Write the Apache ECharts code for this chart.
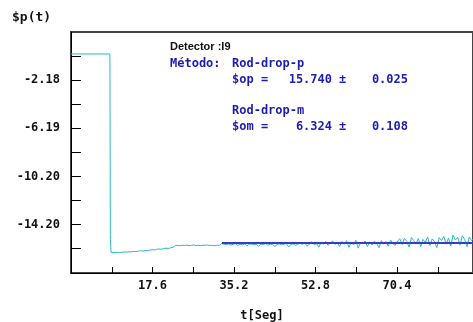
<!DOCTYPE html>
<html>
<head>
<meta charset="utf-8">
<script src="https://cdn.jsdelivr.net/npm/echarts@6/dist/echarts.min.js"></script>
<style>
  html, body { margin: 0; padding: 0; background: #fff; }
  #chart { width: 473px; height: 322px; }
</style>
</head>
<body>
<div id="chart"></div>
<script>
// tick labels and tick positions
const yLabelValues = [-14.20, -10.20, -6.19, -2.18];
const yTickValues = [-16.2, -14.2, -12.2, -10.2, -8.19, -6.19, -4.18, -2.18, -0.18];
const xLabelValues = [17.6, 35.2, 52.8, 70.4];
const xTickValues = [8.8, 17.6, 26.4, 35.2, 44.0, 52.8, 61.6, 70.4, 79.2];

// signal: before and through the rod drop
const headT = [0, 8.4, 8.5, 8.65];
const headY = [0.0, 0.0, -15.45, -16.54];

// signal after the drop, sampled every 0.5 s from 9.0 s
const tailStart = 9.0;
const tailStep = 0.5;
const tailY = [
  -16.54, -16.55, -16.53, -16.54, -16.52, -16.50, -16.51, -16.48, -16.49, -16.45,
  -16.47, -16.43, -16.40, -16.42, -16.37, -16.39, -16.34, -16.30, -16.33, -16.28,
  -16.25, -16.27, -16.22, -16.18, -16.21, -16.15, -16.12,
  -15.97, -15.95, -15.98, -15.94, -15.96, -15.93, -15.97, -15.95, -15.92, -15.96,
  -15.94, -15.97, -15.93, -15.95, -15.91, -15.96, -15.94, -15.98, -15.93, -15.95,
  -15.80, -15.84, -15.88, -15.83, -15.92, -15.86, -15.81, -15.95, -15.85, -15.89,
  -15.82, -15.98, -15.86, -15.83, -15.90, -15.85, -16.02, -15.84, -15.88, -15.80,
  -15.93, -15.86, -15.84, -16.05, -15.87, -15.82, -15.91, -15.85, -15.80, -16.08,
  -15.86, -15.83, -15.95, -15.84, -15.78,
  -15.88, -15.70, -16.02, -15.82, -15.65, -15.90, -15.79, -16.10, -15.72, -15.85,
  -15.62, -15.95, -15.75, -15.58, -15.88, -15.70,
  -16.05, -15.62, -15.85, -15.55, -16.12, -15.68, -15.90, -15.52, -16.18, -15.70,
  -15.80, -15.58, -16.05, -15.65, -15.92, -15.60, -15.78, -16.15, -15.55, -15.85,
  -15.62, -16.02, -15.50, -15.80, -15.95, -15.58,
  -15.40, -15.88, -15.35, -15.62, -16.10, -15.30, -15.55, -15.85, -15.38, -16.05,
  -15.45, -15.70, -15.25, -15.95, -15.40, -15.65, -16.15, -15.30, -15.55, -15.20,
  -15.85, -15.35, -16.00, -15.10, -15.50, -15.28, -15.90, -15.15, -15.45, -16.05,
  -15.25, -15.55, -15.35
];

// fitted level (rod-drop-p)
const fitT = [32.6, 87];
const fitY = [-15.74, -15.74];

const signal = headT.map((t, i) => [t, headY[i]]);
tailY.forEach((v, i) => signal.push([+(tailStart + i * tailStep).toFixed(2), v]));
const fit = fitT.map((t, i) => [t, fitY[i]]);

const chart = echarts.init(document.getElementById('chart'));
const mono = '"DejaVu Sans Mono", monospace';
const blue = '#1c1cb4';

chart.setOption({
  animation: false,
  grid: { left: 71, top: 32, right: -3, bottom: 49, show: true, borderColor: '#444', borderWidth: 2 },
  xAxis: {
    type: 'value',
    min: 0,
    max: 86.8,
    splitLine: { show: false },
    axisLine: { onZero: false, lineStyle: { color: '#000', width: 1 } },
    axisTick: { inside: true, length: 6, lineStyle: { color: '#000' }, customValues: xTickValues },
    axisLabel: {
      customValues: xLabelValues,
      formatter: (v) => v.toFixed(1),
      color: '#111', fontFamily: mono, fontWeight: 'bold', fontSize: 12, margin: 7
    }
  },
  yAxis: {
    type: 'value',
    min: -18.25,
    max: 1.83,
    splitLine: { show: false },
    axisLine: { show: true, onZero: false, lineStyle: { color: '#000', width: 1 } },
    axisTick: { show: true, inside: true, length: 10, lineStyle: { color: '#000' }, customValues: yTickValues },
    axisLabel: {
      customValues: yLabelValues,
      formatter: (v) => v.toFixed(2),
      color: '#111', fontFamily: mono, fontWeight: 'bold', fontSize: 12, margin: 11
    }
  },
  graphic: [
    { type: 'text', x: 12, y: 18, style: { text: '$p(t)', font: 'bold 13px ' + mono, fill: '#111', verticalAlign: 'middle' } },
    { type: 'text', x: 262, y: 316, style: { text: 't[Seg]', font: 'bold 12px ' + mono, fill: '#111', align: 'center', verticalAlign: 'middle' } },
    { type: 'text', x: 170, y: 47, style: { text: 'Detector :I9', font: 'bold 11px "Liberation Sans", sans-serif', fill: '#111', verticalAlign: 'middle' } },
    { type: 'text', x: 170, y: 64, style: { text: 'Método:', font: 'bold 12px ' + mono, fill: blue, verticalAlign: 'middle' } },
    { type: 'text', x: 232, y: 64, style: { text: 'Rod-drop-p', font: 'bold 12px ' + mono, fill: blue, verticalAlign: 'middle' } },
    { type: 'text', x: 232, y: 80, style: { text: '$op =', font: 'bold 12px ' + mono, fill: blue, verticalAlign: 'middle' } },
    { type: 'text', x: 332, y: 80, style: { text: '15.740', font: 'bold 12px ' + mono, fill: blue, align: 'right', verticalAlign: 'middle' } },
    { type: 'text', x: 339, y: 80, style: { text: '±', font: 'bold 12px ' + mono, fill: blue, verticalAlign: 'middle' } },
    { type: 'text', x: 408, y: 80, style: { text: '0.025', font: 'bold 12px ' + mono, fill: blue, align: 'right', verticalAlign: 'middle' } },
    { type: 'text', x: 232, y: 111, style: { text: 'Rod-drop-m', font: 'bold 12px ' + mono, fill: blue, verticalAlign: 'middle' } },
    { type: 'text', x: 232, y: 127, style: { text: '$om =', font: 'bold 12px ' + mono, fill: blue, verticalAlign: 'middle' } },
    { type: 'text', x: 332, y: 127, style: { text: '6.324', font: 'bold 12px ' + mono, fill: blue, align: 'right', verticalAlign: 'middle' } },
    { type: 'text', x: 339, y: 127, style: { text: '±', font: 'bold 12px ' + mono, fill: blue, verticalAlign: 'middle' } },
    { type: 'text', x: 408, y: 127, style: { text: '0.108', font: 'bold 12px ' + mono, fill: blue, align: 'right', verticalAlign: 'middle' } }
  ],
  series: [
    {
      name: 'signal',
      type: 'line',
      data: signal,
      showSymbol: false,
      symbol: 'none',
      lineStyle: { color: '#2cb8b8', width: 1 },
      z: 2
    },
    {
      name: 'fit',
      type: 'line',
      data: fit,
      showSymbol: false,
      symbol: 'none',
      lineStyle: { color: '#3a3ac4', width: 2 },
      z: 3
    }
  ]
});
</script>
</body>
</html>
